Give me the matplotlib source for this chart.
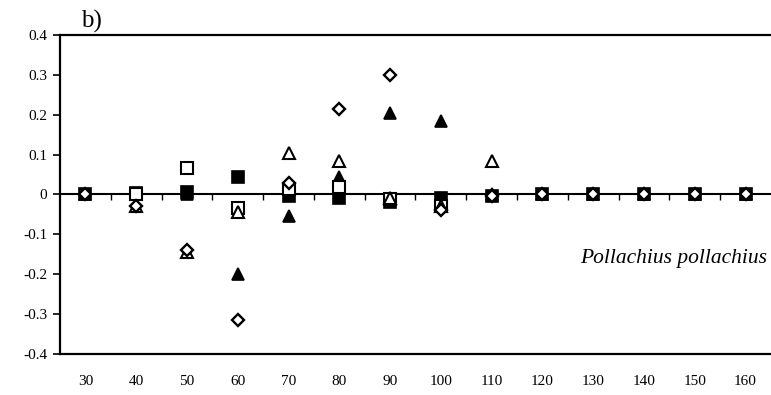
import numpy as np
import matplotlib.pyplot as plt

plt.rcParams['font.family'] = ['Liberation Serif', 'DejaVu Serif']

# length classes (cm)
lengths = ['30', '40', '50', '60', '70', '80', '90', '100', '110', '120', '130', '140', '150', '160']

# values, one list per marker series (nan = no visible mark)
nan = np.nan
filled_sq = [0, 0.005, 0.006, 0.044, -0.005, -0.01, -0.02, -0.01, -0.005, 0, 0, 0, 0, 0]
open_sq = [nan, 0, 0.066, -0.034, 0.015, 0.02, -0.012, -0.03, nan, nan, nan, nan, nan, nan]
filled_tri = [0, 0, 0, -0.2, -0.055, 0.045, 0.205, 0.185, 0, 0, 0, 0, 0, 0]
open_tri = [nan, -0.03, -0.145, -0.045, 0.105, 0.085, -0.01, -0.03, 0.085, nan, nan, nan, nan, nan]
open_dia = [0, -0.03, -0.14, -0.315, 0.03, 0.215, 0.30, -0.04, -0.005, 0, 0, 0, 0, 0]

yticks = [0.4, 0.3, 0.2, 0.1, 0, -0.1, -0.2, -0.3, -0.4]
ytick_labels = ['0.4', '0.3', '0.2', '0.1', '0', '-0.1', '-0.2', '-0.3', '-0.4']

x = np.arange(len(lengths))

fig = plt.figure(figsize=(7.71, 3.95), dpi=100)
ax = fig.add_axes([0.0778, 0.1038, 0.9222, 0.8076])

# zero line with category boundary ticks hanging below it
ax.axhline(0, color='black', lw=1.5, zorder=1)
ax.vlines(x[1:] - 0.5, -0.013, 0, color='black', lw=1.0, zorder=1)

ms = 8
ax.plot(x, filled_tri, '^', ms=ms, mfc='black', mec='black', mew=1.2, zorder=2)
ax.plot(x, filled_sq, 's', ms=ms, mfc='black', mec='black', mew=1.2, zorder=3)
ax.plot(x, open_sq, 's', ms=ms, mfc='white', mec='black', mew=1.5, zorder=4)
ax.plot(x, open_tri, '^', ms=ms, mfc='white', mec='black', mew=1.5, zorder=6)
ax.plot(x, open_dia, 'D', ms=6, mfc='white', mec='black', mew=1.7, zorder=7)

ax.set_xlim(-0.5, len(lengths) - 0.5)
ax.set_ylim(-0.4, 0.4)
ax.set_yticks(yticks)
ax.set_yticklabels(ytick_labels, fontsize=11)
ax.set_xticks(x)
ax.set_xticklabels(lengths, fontsize=11)
ax.tick_params(axis='x', length=0, pad=15)
ax.tick_params(axis='y', length=5, width=1.2, pad=4, direction='out')

ax.spines['right'].set_visible(False)
for s in ['left', 'top', 'bottom']:
    ax.spines[s].set_linewidth(1.6)

ax.text(0.03, 1.005, 'b)', transform=ax.transAxes, fontsize=18, va='bottom', ha='left')
ax.text(0.995, 0.3, 'Pollachius pollachius', transform=ax.transAxes, fontsize=15.5,
        style='italic', ha='right', va='center')

fig.savefig('out.png', dpi=100)
